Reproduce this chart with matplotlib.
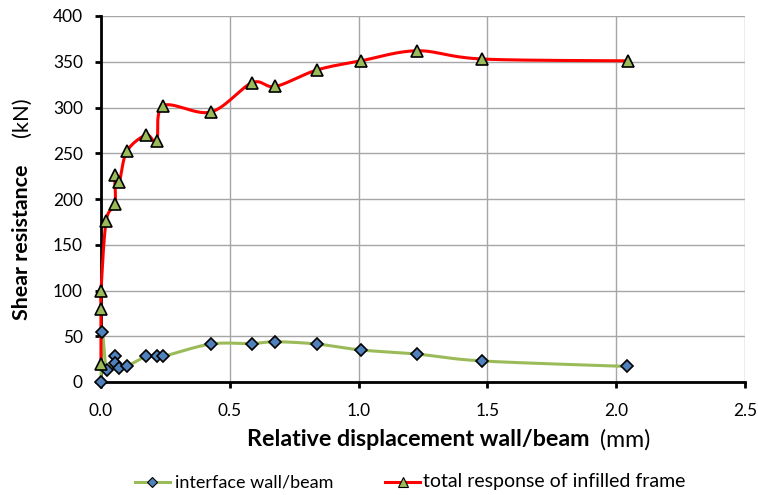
import numpy as np
import matplotlib
matplotlib.use("Agg")
import matplotlib.pyplot as plt
from matplotlib.lines import Line2D

# values
interface_x = [0.0, 0.005, 0.022, 0.054, 0.054, 0.071, 0.10, 0.175, 0.216, 0.242,
               0.426, 0.586, 0.677, 0.838, 1.009, 1.228, 1.48, 2.043]
interface_y = [0, 55, 13, 28, 21, 15, 17, 28, 28, 28,
               41.5, 42, 44, 41.5, 35, 30.5, 23, 17]

total_x = [0.0, 0.0, 0.0, 0.02, 0.054, 0.054, 0.071, 0.10, 0.175, 0.216, 0.242,
           0.426, 0.586, 0.677, 0.838, 1.009, 1.227, 1.479, 2.046]
total_y = [20, 80, 100, 176, 195, 226, 219, 252, 270, 263, 302,
           295, 327, 323, 341, 351, 362, 353, 351]

x_ticks = [0.0, 0.5, 1.0, 1.5, 2.0, 2.5]
y_ticks = [0, 50, 100, 150, 200, 250, 300, 350, 400]

FONT = "Lato"
W, H = 758, 495
GREEN = "#9bbb59"
BLUE = "#4f81bd"
RED = "#ff0000"


def smooth(xs, ys, sx, sy, n=30):
    # Excel-style smoothed line: Catmull-Rom Bezier in screen-like space
    p = np.column_stack([np.asarray(xs) * sx, np.asarray(ys) * sy])
    out = []
    for i in range(len(p) - 1):
        p0 = p[i - 1] if i > 0 else p[i]
        p1, p2 = p[i], p[i + 1]
        p3 = p[i + 2] if i + 2 < len(p) else p[i + 1]
        c1 = p1 + (p2 - p0) / 6
        c2 = p2 - (p3 - p1) / 6
        t = np.linspace(0, 1, n)[:, None]
        seg = ((1 - t) ** 3) * p1 + 3 * ((1 - t) ** 2) * t * c1 + 3 * (1 - t) * t ** 2 * c2 + t ** 3 * p2
        out.append(seg)
    out = np.vstack(out)
    return out[:, 0] / sx, out[:, 1] / sy


fig = plt.figure(figsize=(W / 100, H / 100), dpi=100)
renderer = fig.canvas.get_renderer()


def size_for(s, target, vertical=False, **kw):
    # font size that makes string s span `target` pixels
    t = fig.text(0, 0, s, fontsize=12, family=FONT, **kw)
    bb = t.get_window_extent(renderer)
    t.remove()
    return 12 * target / (bb.height if vertical else bb.width)


def put(s, x0, x1, y, **kw):
    fs = size_for(s, x1 - x0, **kw)
    fig.text(x0 / W, 1 - y / H, s, fontsize=fs, family=FONT, ha="left", va="center", **kw)


def put_v(s, y0, y1, x, **kw):
    # rotated text spanning pixel rows y0 (top) .. y1 (bottom)
    fs = size_for(s, y1 - y0, vertical=True, rotation=90, **kw)
    fig.text(x / W, 1 - y1 / H, s, fontsize=fs, family=FONT, ha="center", va="bottom",
             rotation=90, **kw)


ax = fig.add_axes([101 / W, 1 - 382 / H, (745 - 101) / W, (382 - 16) / H])

# screen scale: px per data unit
sx, sy = 644 / 2.5, 366 / 400

gx, gy = smooth(interface_x, interface_y, sx, sy)
rx, ry = smooth(total_x, total_y, sx, sy)

ax.plot(gx, gy, color=GREEN, lw=2.2, zorder=3, clip_on=False)
ax.plot(rx, ry, color=RED, lw=2.2, zorder=4, clip_on=False)
ax.plot(interface_x, interface_y, ls="none", marker="D", ms=6.5, mfc=BLUE,
        mec="black", mew=1.2, zorder=5, clip_on=False)
ax.plot(total_x, total_y, ls="none", marker="^", ms=8, mfc=GREEN,
        mec="black", mew=1.2, zorder=6, clip_on=False)

tick_fs = size_for("400", 30)
ax.set_xlim(0, 2.5)
ax.set_ylim(0, 400)
ax.set_xticks(x_ticks)
ax.set_xticklabels([f"{v:.1f}" for v in x_ticks], fontsize=tick_fs, family=FONT)
ax.set_yticks(y_ticks)
ax.set_yticklabels([str(v) for v in y_ticks], fontsize=tick_fs, family=FONT)
ax.grid(True, color="#a6a6a6", lw=1)
ax.set_axisbelow(True)
for s in ["top", "right"]:
    ax.spines[s].set_visible(False)
for s in ["left", "bottom"]:
    ax.spines[s].set_linewidth(2)
    ax.spines[s].set_color("black")
ax.tick_params(direction="out", length=4, width=2, colors="black")
ax.tick_params(axis="y", pad=9)
ax.tick_params(axis="x", pad=11)

# axis titles: bold part + plain unit
put("Relative displacement wall/beam", 247, 587, 440, fontweight="bold")
put("(mm)", 600, 650, 440)
put_v("Shear resistance", 165, 320, 22, fontweight="bold")
put_v("(kN)", 98, 137, 22)

# legend keys, drawn in figure pixels
ly = 1 - 482 / H
fig.add_artist(Line2D([135 / W, 170 / W], [ly, ly], color=GREEN, lw=2.2))
fig.add_artist(Line2D([152 / W], [ly], ls="none", marker="D", ms=5.5, mfc=BLUE,
                      mec="black", mew=0.8))
fig.add_artist(Line2D([385 / W, 420 / W], [ly, ly], color=RED, lw=2.2))
fig.add_artist(Line2D([403 / W], [ly], ls="none", marker="^", ms=7, mfc=GREEN,
                      mec="black", mew=0.8))
put("interface wall/beam", 175, 333, 482)
put("total response of infilled frame", 423, 685, 482)

fig.savefig("out.png", dpi=100)
